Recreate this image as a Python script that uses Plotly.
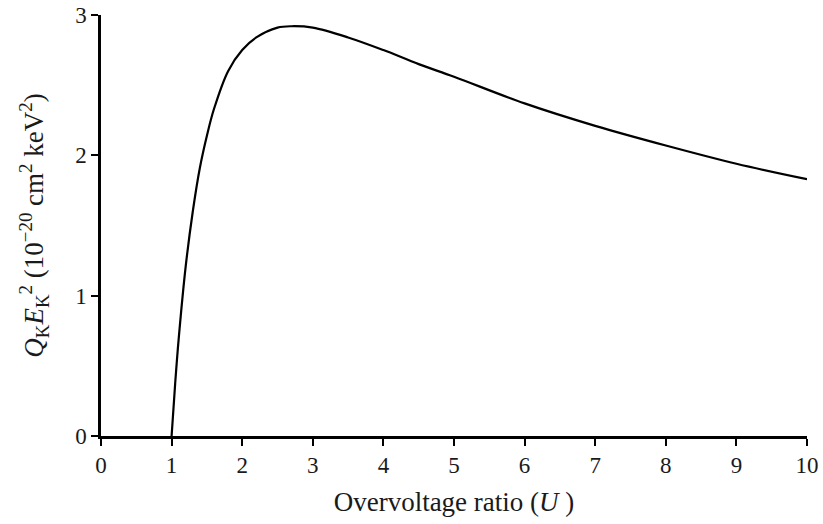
import plotly.graph_objects as go

# Overvoltage ratio U and the K-shell product Q_K * E_K^2 (units of 1e-20 cm^2 keV^2)
overvoltage = [1.0, 1.05, 1.1, 1.2, 1.3, 1.4, 1.5, 1.6, 1.8, 2.0, 2.2, 2.5,
               2.7, 3.0, 3.5, 4.0, 4.5, 5.0, 6.0, 7.0, 8.0, 9.0, 10.0]
qk_ek2 = [0.0, 0.37, 0.69, 1.21, 1.60, 1.91, 2.14, 2.33, 2.60, 2.75, 2.84, 2.91,
          2.92, 2.91, 2.84, 2.75, 2.65, 2.56, 2.37, 2.21, 2.07, 1.94, 1.83]

x_ticks = list(range(0, 11))
y_ticks = [0, 1, 2, 3]

serif = "Liberation Serif, Times New Roman, serif"
text_color = "#1a1a1a"

fig = go.Figure()
fig.add_trace(go.Scatter(
    x=overvoltage, y=qk_ek2, mode="lines",
    line=dict(color="black", width=2.2, shape="spline", smoothing=1.0),
    showlegend=False, hoverinfo="skip",
))

axis_common = dict(
    showline=True, linecolor="black", linewidth=2.5,
    ticks="outside", ticklen=7, tickwidth=2, tickcolor="black",
    showgrid=False, zeroline=False,
    tickfont=dict(family=serif, size=23, color=text_color),
)

fig.update_layout(
    width=823, height=524,
    margin=dict(l=101, r=16, t=15, b=88),
    paper_bgcolor="white", plot_bgcolor="white",
    xaxis=dict(range=[0, 10], tickvals=x_ticks, ticktext=[str(v) for v in x_ticks],
               automargin=False,
               title=dict(text="Overvoltage ratio (<i>U</i> )",
                          font=dict(family=serif, size=27, color=text_color)),
               **axis_common),
    yaxis=dict(range=[0, 3], tickvals=y_ticks, ticktext=[str(v) for v in y_ticks],
               automargin="left",
               title=dict(text="<i>Q</i><sub>K</sub><i>E</i><sub>K</sub><sup>2</sup> (10<sup>\u221220</sup> cm<sup>2</sup> keV<sup>2</sup>)",
                          font=dict(family=serif, size=27, color=text_color),
                          standoff=24),
               **axis_common),
)

fig.write_html("out.html")
